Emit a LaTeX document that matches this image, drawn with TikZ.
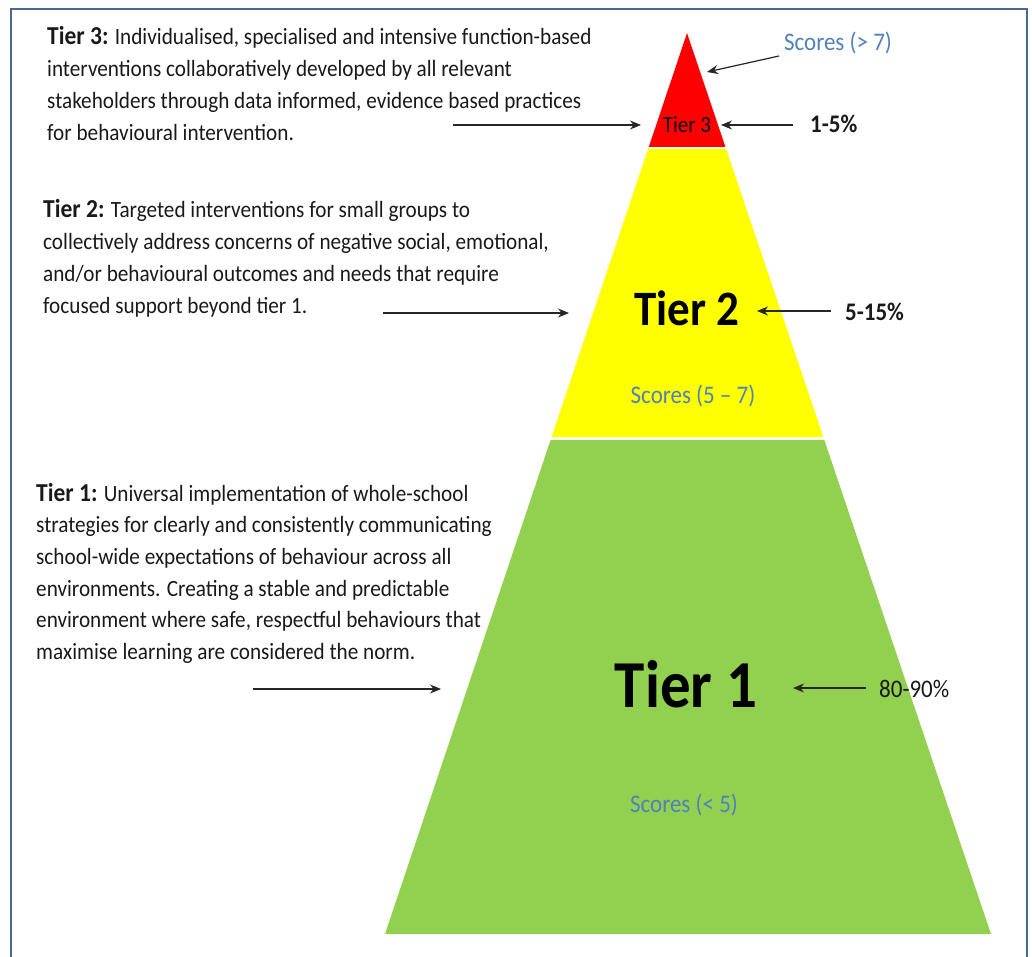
\documentclass[tikz,border=0pt]{standalone}
\usepackage{fontspec}
\setmainfont{Carlito}
\usetikzlibrary{calc,arrows.meta}
\definecolor{framec}{RGB}{72,103,150}
\definecolor{tred}{RGB}{255,0,0}
\definecolor{tyellow}{RGB}{255,255,0}
\definecolor{tgreen}{RGB}{146,208,80}
\definecolor{scoreblue}{RGB}{79,129,189}
\definecolor{txt}{RGB}{25,25,25}
\newcommand{\vstr}[1]{\scalebox{1}[1.1]{#1}}
\begin{document}
\begin{tikzpicture}[x=1pt,y=-1pt,
  para/.style={anchor=base west, inner sep=0pt, text=txt},
  pct/.style={anchor=base west, inner sep=0pt, text=txt},
  score/.style={anchor=base, inner sep=0pt, text=scoreblue},
  big/.style={anchor=base, inner sep=0pt, text=black},
  arr/.style={-{Stealth[length=11pt,width=9pt]}, line width=1.2pt, draw=black!85},
]
\useasboundingbox (0,0) rectangle (1032,957);
\clip (0,0) rectangle (1032,957);
\draw[framec, line width=2pt] (11,9) rectangle (1027,990);

\coordinate (A) at (687,33);
\coordinate (L) at (385,934);
\coordinate (R) at (991,934);
\fill[tred] (A) -- ($(A)!0.1265!(R)$) -- ($(A)!0.1265!(L)$) -- cycle;
\fill[tyellow] ($(A)!0.1287!(L)$) -- ($(A)!0.1287!(R)$) -- ($(A)!0.4484!(R)$) -- ($(A)!0.4484!(L)$) -- cycle;
\fill[tgreen] ($(A)!0.4517!(L)$) -- ($(A)!0.4517!(R)$) -- (R) -- (L) -- cycle;

% paragraphs
\node[para] (t3) at (47,45) {\vstr{\parbox[t]{700pt}{\fontsize{21.2}{28.8}\selectfont {\fontsize{23.5}{23}\selectfont\bfseries Tier 3:} Individualised, specialised and intensive function-based\\
interventions collaboratively developed by all relevant\\
stakeholders through data informed, evidence based practices\\
for behavioural intervention.}}};
\node[para] (t2) at (43,218) {\vstr{\parbox[t]{700pt}{\fontsize{21.2}{28.8}\selectfont {\fontsize{23.5}{23}\selectfont\bfseries Tier 2:} Targeted interventions for small groups to\\
collectively address concerns of negative social, emotional,\\
and/or behavioural outcomes and needs that require\\
focused support beyond tier 1.}}};
\node[para] (t1) at (36,501) {\vstr{\parbox[t]{700pt}{\fontsize{21.2}{28.8}\selectfont {\fontsize{23.5}{23}\selectfont\bfseries Tier 1:} Universal implementation of whole-school\\
strategies for clearly and consistently communicating\\
school-wide expectations of behaviour across all\\
environments. Creating a stable and predictable\\
environment where safe, respectful behaviours that\\
maximise learning are considered the norm.}}};

% tier labels
\node[big] (l3) at (687,133) {\vstr{\fontsize{21}{21}\selectfont Tier 3}};
\node[big] (l2) at (687,325) {\vstr{\fontsize{45}{45}\selectfont\bfseries Tier 2}};
\node[big] (l1) at (686,707) {\vstr{\fontsize{61}{61}\selectfont\bfseries Tier 1}};

% percentages
\node[pct] (p3) at (810,133) {\vstr{\fontsize{23}{23}\selectfont\bfseries 1-5\%}};
\node[pct] (p2) at (845,320) {\vstr{\fontsize{23}{23}\selectfont\bfseries 5-15\%}};
\node[pct] (p1) at (879,697) {\vstr{\fontsize{23}{23}\selectfont 80-90\%}};

% scores
\node[score] (s3) at (838,51) {\vstr{\fontsize{23}{23}\selectfont Scores (> 7)}};
\node[score] (s2) at (693,403) {\vstr{\fontsize{23}{23}\selectfont Scores (5 – 7)}};
\node[score] (s1) at (684,812) {\vstr{\fontsize{23}{23}\selectfont Scores (< 5)}};

% arrow coordinates
\coordinate (a3s) at (453,125); \coordinate (a3e) at (641,125);
\coordinate (b3s) at (793,125); \coordinate (b3e) at (721,125);
\coordinate (c3s) at (779,56);  \coordinate (c3e) at (707,72);
\coordinate (a2s) at (383,313); \coordinate (a2e) at (569,313);
\coordinate (b2s) at (831,311); \coordinate (b2e) at (757,311);
\coordinate (a1s) at (253,689); \coordinate (a1e) at (441,689);
\coordinate (b1s) at (866,688); \coordinate (b1e) at (793,688);

\draw[arr] (a3s) -- (a3e);
\draw[arr] (b3s) -- (b3e);
\draw[arr] (c3s) -- (c3e);
\draw[arr] (a2s) -- (a2e);
\draw[arr] (b2s) -- (b2e);
\draw[arr] (a1s) -- (a1e);
\draw[arr] (b1s) -- (b1e);
\end{tikzpicture}
\end{document}
